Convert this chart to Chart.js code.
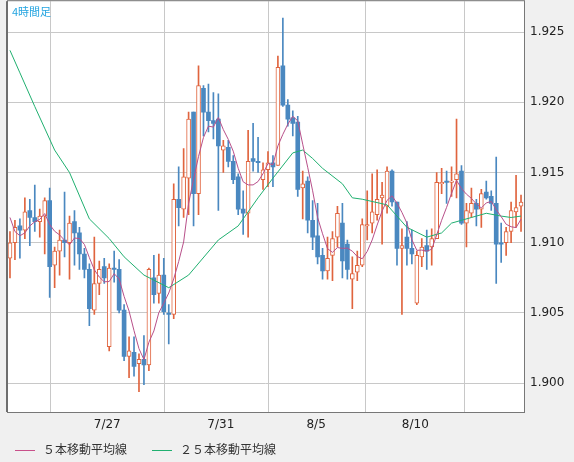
<!DOCTYPE html>
<html><head><meta charset="utf-8">
<script src="https://cdn.jsdelivr.net/npm/chart.js@4/dist/chart.umd.min.js"></script>
<style>
body{margin:0;background:#f0f0f0;font-family:"Noto Sans CJK JP","DejaVu Sans",sans-serif;overflow:hidden;}
#wrap{position:relative;width:574px;height:462px;overflow:hidden;}
#c{position:absolute;left:0;top:-12px;}
#title{position:absolute;left:12px;top:3px;font-size:11px;color:#22a4e0;}
.lg{position:absolute;top:440px;font-size:12px;color:#333;}
.lg span{display:inline-block;width:20px;height:1px;vertical-align:middle;margin-right:8px;}
</style></head><body>
<div id="wrap"><canvas id="c" width="574" height="474"></canvas>
<div id="title">4時間足</div>
<div class="lg" style="left:15px"><span style="background:#c8508a"></span>５本移動平均線</div>
<div class="lg" style="left:152px"><span style="background:#20b070"></span>２５本移動平均線</div>
</div>
<script>
const opens  = [1.9089,1.9100,1.9112,1.9109,1.9123,1.9118,1.9115,1.9119,1.9130,1.9084,1.9094,1.9102,1.9100,1.9115,1.9107,1.9092,1.9081,1.9052,1.9071,1.9083,1.9026,1.9082,1.9081,1.9052,1.9019,1.9022,1.9014,1.9017,1.9013,1.9075,1.9064,1.9077,1.9050,1.9049,1.9131,1.9124,1.9146,1.9193,1.9135,1.9210,1.9193,1.9187,1.9188,1.9166,1.9168,1.9158,1.9147,1.9124,1.9121,1.9160,1.9158,1.9145,1.9152,1.9157,1.9155,1.9226,1.9198,1.9189,1.9186,1.9139,1.9144,1.9116,1.9105,1.9091,1.9080,1.9091,1.9104,1.9114,1.9099,1.9074,1.9079,1.9084,1.9112,1.9114,1.9120,1.9132,1.9126,1.9151,1.9129,1.9096,1.9104,1.9096,1.9057,1.9090,1.9098,1.9097,1.9103,1.9142,1.9144,1.9143,1.9145,1.9151,1.9114,1.9121,1.9128,1.9124,1.9136,1.9133,1.9128,1.9100,1.9100,1.9108,1.9122,1.9126];
const highs  = [1.9108,1.9116,1.9117,1.9132,1.9131,1.9141,1.9124,1.9132,1.9139,1.9097,1.9109,1.9136,1.9119,1.9123,1.9111,1.9096,1.9085,1.9104,1.9087,1.9089,1.9085,1.9094,1.9088,1.9056,1.9033,1.9033,1.9021,1.9034,1.9082,1.9091,1.9092,1.9089,1.9056,1.9142,1.9154,1.9167,1.9193,1.9193,1.9226,1.9212,1.9213,1.9207,1.9206,1.9173,1.9173,1.9162,1.9149,1.9137,1.9180,1.9185,1.9175,1.9157,1.9165,1.9162,1.9233,1.9260,1.9202,1.9194,1.9190,1.9151,1.9147,1.9130,1.9128,1.9096,1.9104,1.9108,1.9126,1.9128,1.9102,1.9090,1.9094,1.9117,1.9137,1.9149,1.9152,1.9143,1.9154,1.9152,1.9129,1.9110,1.9115,1.9109,1.9094,1.9103,1.9109,1.9110,1.9150,1.9153,1.9151,1.9154,1.9188,1.9155,1.9128,1.9139,1.9131,1.9138,1.9144,1.9137,1.9161,1.9114,1.9111,1.9129,1.9148,1.9134];
const lows   = [1.9075,1.9088,1.9089,1.9103,1.9098,1.9108,1.9104,1.9092,1.9061,1.9068,1.9077,1.9090,1.9074,1.9084,1.9081,1.9075,1.9041,1.9049,1.9063,1.9071,1.9023,1.9072,1.9050,1.9016,1.9004,1.9005,1.8994,1.8999,1.9009,1.9057,1.9057,1.9049,1.9028,1.9046,1.9112,1.9118,1.9120,1.9112,1.9120,1.9176,1.9179,1.9174,1.9123,1.9150,1.9154,1.9142,1.9120,1.9106,1.9104,1.9151,1.9150,1.9138,1.9140,1.9140,1.9155,1.9197,1.9183,1.9176,1.9133,1.9117,1.9107,1.9095,1.9085,1.9074,1.9074,1.9073,1.9097,1.9075,1.9074,1.9053,1.9073,1.9083,1.9102,1.9107,1.9116,1.9099,1.9121,1.9126,1.9084,1.9049,1.9084,1.9085,1.9056,1.9083,1.9081,1.9084,1.9103,1.9135,1.9128,1.9133,1.9132,1.9113,1.9097,1.9118,1.9112,1.9111,1.9131,1.9123,1.9071,1.9086,1.9091,1.9100,1.9111,1.9108];
const closes = [1.9100,1.9111,1.9109,1.9122,1.9118,1.9115,1.9119,1.9130,1.9083,1.9094,1.9102,1.9100,1.9114,1.9107,1.9092,1.9081,1.9053,1.9071,1.9081,1.9075,1.9082,1.9081,1.9052,1.9019,1.9023,1.9012,1.9017,1.9013,1.9081,1.9063,1.9077,1.9051,1.9049,1.9131,1.9125,1.9147,1.9188,1.9135,1.9212,1.9193,1.9187,1.9185,1.9169,1.9169,1.9158,1.9145,1.9124,1.9121,1.9158,1.9158,1.9157,1.9152,1.9157,1.9154,1.9225,1.9198,1.9188,1.9185,1.9138,1.9142,1.9116,1.9104,1.9090,1.9080,1.9089,1.9103,1.9121,1.9087,1.9081,1.9078,1.9084,1.9113,1.9113,1.9122,1.9131,1.9134,1.9151,1.9129,1.9096,1.9098,1.9096,1.9092,1.9091,1.9097,1.9094,1.9103,1.9143,1.9143,1.9143,1.9144,1.9149,1.9114,1.9123,1.9128,1.9124,1.9135,1.9132,1.9128,1.9099,1.9099,1.9108,1.9123,1.9125,1.9129];
const ma5Start = [1.9118,1.9108,1.9105,1.9107];
const ma25Idx = [0,2,5,9,12,16,20,23,27,32,36,42,46,50,53,57,59,61,63,67,69,71,76,80,84,87,89,93,96,99,101,103];
const ma25Val = [1.9237,1.9221,1.9197,1.9166,1.9150,1.9117,1.9103,1.9090,1.9077,1.9068,1.9077,1.9102,1.9112,1.9132,1.9146,1.9164,1.9166,1.9160,1.9153,1.9142,1.9132,1.9131,1.9127,1.9111,1.9104,1.9107,1.9114,1.9118,1.9121,1.9119,1.9118,1.9119];
const tickLabels = ["7/27","7/31","8/5","8/10"];
const tickAt = [19.6,42.5,61.7,81.7];
const yTicks = [1.900,1.905,1.910,1.915,1.920,1.925];

const UP='#e0643e', DN='#4a88c0';
const idx = closes.map((_,i)=>i);
const up = idx.map(i=>closes[i]>=opens[i]);
const ma5 = idx.map(i=> i<4 ? {x:i,y:ma5Start[i]} : {x:i,y:(closes[i]+closes[i-1]+closes[i-2]+closes[i-3]+closes[i-4])/5});
const bg = {id:'bg',beforeDraw(c){const {ctx,chartArea:a}=c;ctx.save();ctx.fillStyle='#f0f0f0';ctx.fillRect(0,0,c.width,c.height);ctx.fillStyle='#fff';ctx.fillRect(a.left,a.top,a.right-a.left,a.bottom-a.top);ctx.restore();},
 afterDraw(c){const {ctx,chartArea:a}=c;ctx.save();ctx.strokeStyle='#777';ctx.lineWidth=1;ctx.strokeRect(a.left+0.5,a.top-0.5,a.right-a.left,a.bottom-a.top+1);ctx.fillStyle='#6e6e6e';ctx.fillRect(a.left-1,a.top,2,a.bottom-a.top);ctx.restore();}};
new Chart(document.getElementById('c'),{
 data:{datasets:[
  {type:'line',data:ma5,borderColor:'#b8508a',borderWidth:1,pointRadius:0,order:0},
  {type:'line',data:ma25Idx.map((x,k)=>({x,y:ma25Val[k]})),borderColor:'#20b070',borderWidth:1,pointRadius:0,order:0},
  {type:'bar',data:idx.map(i=>({x:i,y:[opens[i],closes[i]]})),backgroundColor:idx.map(i=>up[i]?'#fff':DN),borderColor:idx.map(i=>up[i]?UP:DN),borderWidth:idx.map(i=>up[i]?1:0),barThickness:4,grouped:false,borderSkipped:false,order:1},
  {type:'bar',data:idx.map(i=>({x:i,y:[lows[i],highs[i]]})),backgroundColor:idx.map(i=>up[i]?UP:DN),barThickness:1,grouped:false,order:2}
 ]},
 options:{animation:false,responsive:false,
  layout:{padding:{left:7,top:0,bottom:22,right:0}},
  plugins:{legend:{display:false},tooltip:{enabled:false}},
  scales:{
   x:{type:'linear',min:-0.6,max:103.6,offset:false,
      afterBuildTicks(s){s.ticks=tickAt.map(v=>({value:v}));},
      afterFit(s){s.height=28;},
      ticks:{autoSkip:false,maxRotation:0,color:'#222',font:{size:12,family:'DejaVu Sans'},padding:6,callback:(v,k)=>tickLabels[k]},
      grid:{color:'#c8c8c8',drawTicks:false},border:{display:false}},
   y:{position:'right',min:1.89795,max:1.9272,
      afterBuildTicks(s){s.ticks=yTicks.map(v=>({value:v}));},
      afterFit(s){s.width=50;},
      ticks:{color:'#222',font:{size:12,family:'DejaVu Sans'},padding:6,callback:v=>v.toFixed(3)},
      grid:{color:'#c8c8c8',drawTicks:false},border:{display:false}}
  }},
 plugins:[bg]
});
</script></body></html>
